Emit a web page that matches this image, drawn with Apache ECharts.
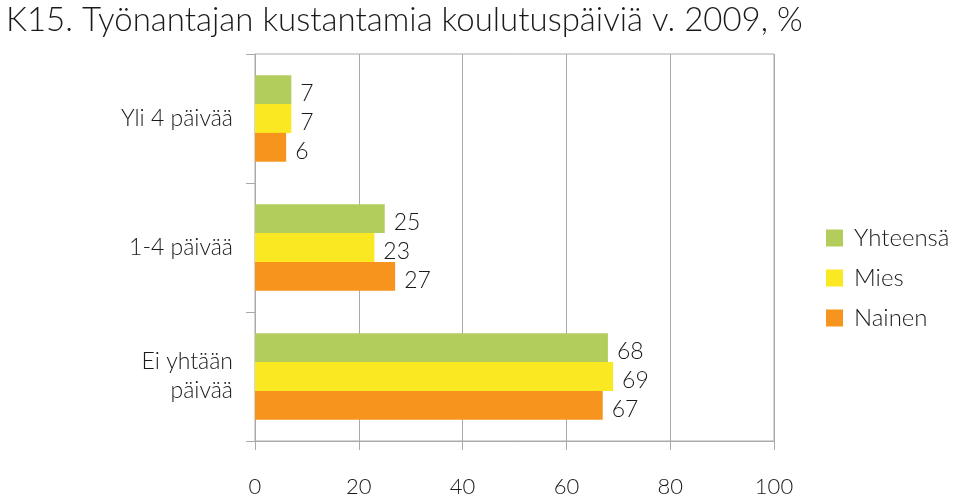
<!DOCTYPE html>
<html><head><meta charset="utf-8">
<script src="https://cdn.jsdelivr.net/npm/echarts@6/dist/echarts.min.js"></script>
<style>html,body{margin:0;padding:0;background:#fff}#c{width:960px;height:500px}</style>
</head><body><div id="c"></div>
<script>
const categories = ['Yli 4 päivää', '1-4 päivää', 'Ei yhtään\npäivää'];
const seriesNames = ['Yhteensä', 'Mies', 'Nainen'];
const yhteensa = [7, 25, 68];
const mies = [7, 23, 69];
const nainen = [6, 27, 67];
const xTicks = [0, 20, 40, 60, 80, 100];
const colors = ['#b3cd5c', '#fae922', '#f7941e'];

const FONT = 'Lato';
const chart = echarts.init(document.getElementById('c'), null, {renderer: 'canvas'});
const values = [yhteensa, mies, nainen];
chart.setOption({
  animation: false,
  title: {
    text: 'K15. Työnantajan kustantamia koulutuspäiviä v. 2009, %',
    left: 1, top: -1,
    textStyle: {fontFamily: FONT, fontSize: 33, fontWeight: 300, color: '#1a1a1a'}
  },
  legend: {
    orient: 'vertical', left: 821, top: 220,
    itemWidth: 17, itemHeight: 17, itemGap: 14,
    icon: 'rect',
    textStyle: {fontFamily: FONT, fontSize: 24, fontWeight: 300, color: '#1a1a1a', padding: [0,0,0,6], lineHeight: 26},
    data: seriesNames
  },
  grid: {left: 255, right: 186, top: 54, bottom: 59, show: true, borderColor: '#aaa', borderWidth: 1},
  xAxis: {
    type: 'value', min: xTicks[0], max: xTicks[xTicks.length-1], interval: 20,
    axisLine: {show: true, lineStyle: {color: '#aaa'}},
    axisTick: {show: true, length: 9, lineStyle: {color: '#aaa'}},
    splitLine: {show: true, lineStyle: {color: '#aaa'}},
    axisLabel: {fontFamily: FONT, fontSize: 22, fontWeight: 300, color: '#1a1a1a', margin: 35}
  },
  yAxis: {
    type: 'category', data: categories, inverse: true,
    axisLine: {show: true, lineStyle: {color: '#aaa'}},
    axisTick: {show: true, length: 9, lineStyle: {color: '#aaa'}},
    axisLabel: {fontFamily: FONT, fontSize: 23, fontWeight: 300, color: '#1a1a1a', margin: 22, align: 'right', lineHeight: 29}
  },
  series: seriesNames.map((n, i) => ({
    name: n, type: 'bar', data: values[i],
    barGap: 0, barCategoryGap: '33%',
    itemStyle: {color: colors[i]},
    label: {show: true, position: 'right', distance: 9, offset: [0, 4], fontFamily: FONT, fontSize: 23, fontWeight: 300, color: '#1a1a1a'}
  }))
});
</script></body></html>
